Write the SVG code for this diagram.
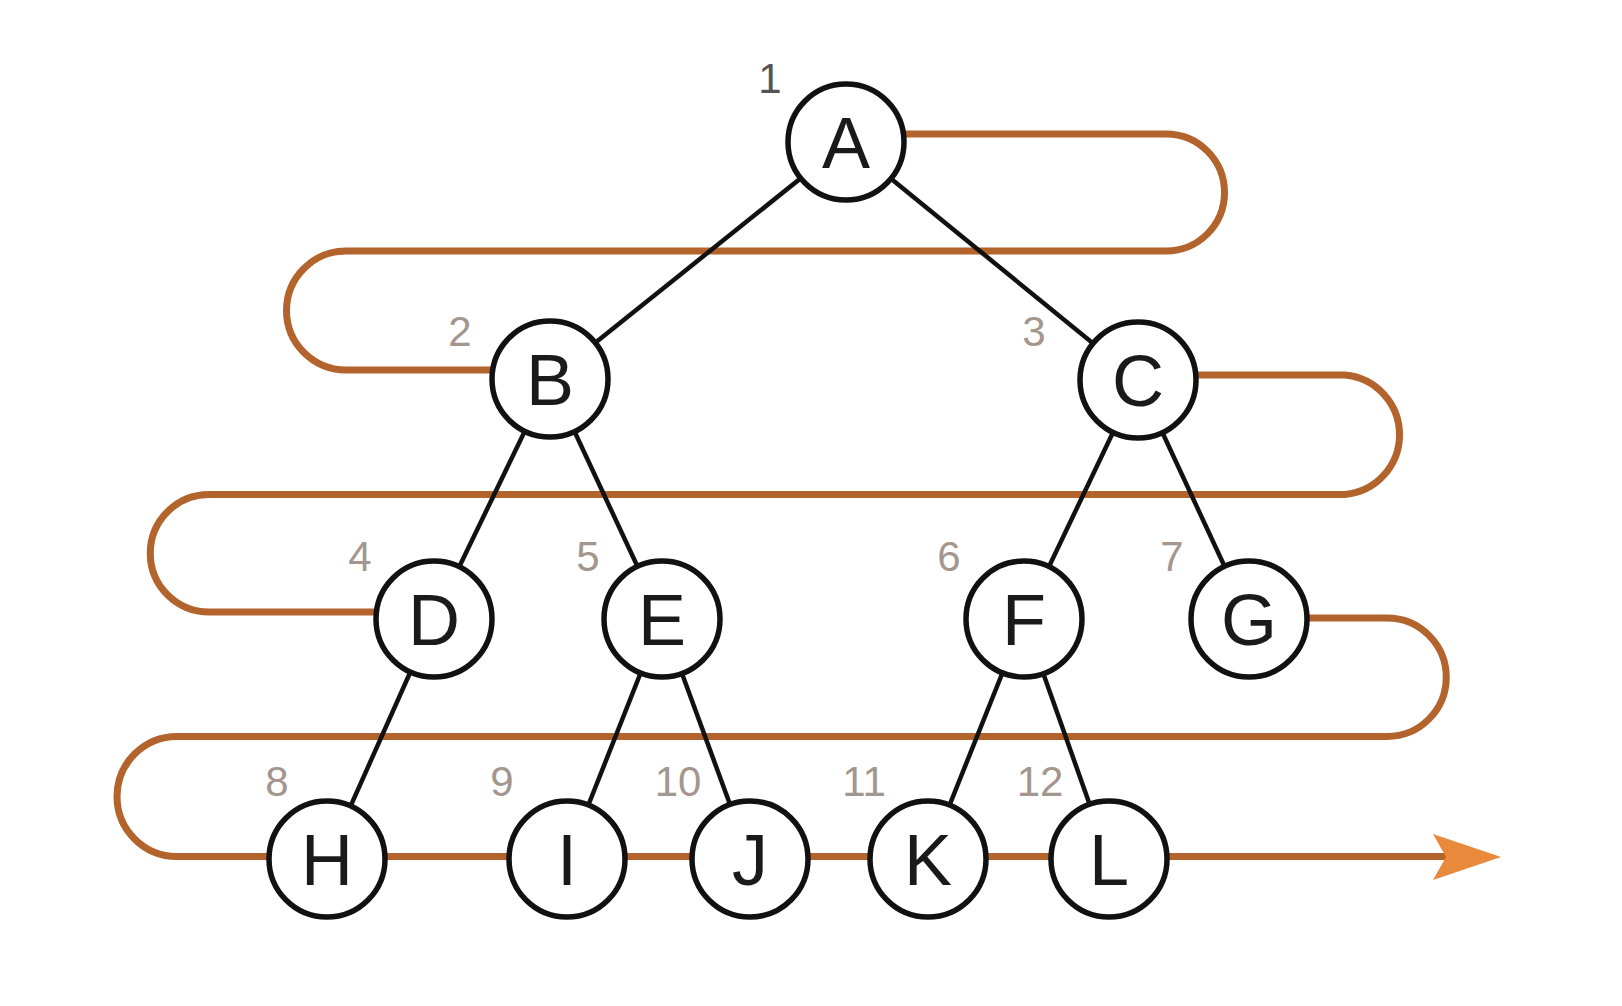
<svg xmlns="http://www.w3.org/2000/svg" width="1622" height="1006" viewBox="0 0 1622 1006">
<style>
.path{fill:none;stroke:#b3632c;stroke-width:7;stroke-linecap:round;stroke-linejoin:round}
.edge{stroke:#111;stroke-width:4.5}
.node circle{fill:#fff;stroke:#111;stroke-width:5.5}
.node text{font-family:"Liberation Sans",Arial,sans-serif;font-size:72px;fill:#1a1a1a;text-anchor:middle}
.num{font-family:"Liberation Sans",Arial,sans-serif;font-size:42px;fill:#a3968f;text-anchor:middle}
</style>
<rect width="1622" height="1006" fill="#fff"/>
<g id="traversal">
<path class="path" d="M 904 134 H 1166 A 58.5 58.5 0 0 1 1166 251 H 346 A 59.5 59.5 0 0 0 346 370 H 492"/>
<path class="path" d="M 1196 375 H 1345 A 60 60 0 0 1 1345 494.5 H 209 A 58.75 58.75 0 0 0 209 612 H 376"/>
<path class="path" d="M 1307 618 H 1387 A 59 59 0 0 1 1387 736.5 H 177 A 60 60 0 0 0 177 856.5 H 1445"/>
<polygon points="1433,834 1501,857 1433,880 1446,857" fill="#e8893b"/>
</g>
<g id="edges">
<line class="edge" x1="846" y1="142" x2="550" y2="379"/>
<line class="edge" x1="846" y1="142" x2="1138" y2="380"/>
<line class="edge" x1="550" y1="379" x2="434" y2="619"/>
<line class="edge" x1="550" y1="379" x2="662" y2="619"/>
<line class="edge" x1="1138" y1="380" x2="1024" y2="619"/>
<line class="edge" x1="1138" y1="380" x2="1249" y2="619"/>
<line class="edge" x1="434" y1="619" x2="327" y2="859"/>
<line class="edge" x1="662" y1="619" x2="567" y2="859"/>
<line class="edge" x1="662" y1="619" x2="750" y2="859"/>
<line class="edge" x1="1024" y1="619" x2="928" y2="859"/>
<line class="edge" x1="1024" y1="619" x2="1109" y2="859"/>
</g>
<g id="nodeA" class="node"><circle cx="846" cy="142" r="58"/><text x="846" y="168">A</text></g>
<g id="nodeB" class="node"><circle cx="550" cy="379" r="58"/><text x="550" y="405">B</text></g>
<g id="nodeC" class="node"><circle cx="1138" cy="380" r="58"/><text x="1138" y="406">C</text></g>
<g id="nodeD" class="node"><circle cx="434" cy="619" r="58"/><text x="434" y="645">D</text></g>
<g id="nodeE" class="node"><circle cx="662" cy="619" r="58"/><text x="662" y="645">E</text></g>
<g id="nodeF" class="node"><circle cx="1024" cy="619" r="58"/><text x="1024" y="645">F</text></g>
<g id="nodeG" class="node"><circle cx="1249" cy="619" r="58"/><text x="1249" y="645">G</text></g>
<g id="nodeH" class="node"><circle cx="327" cy="859" r="58"/><text x="327" y="885">H</text></g>
<g id="nodeI" class="node"><circle cx="567" cy="859" r="58"/><text x="567" y="885">I</text></g>
<g id="nodeJ" class="node"><circle cx="750" cy="859" r="58"/><text x="750" y="885">J</text></g>
<g id="nodeK" class="node"><circle cx="928" cy="859" r="58"/><text x="928" y="885">K</text></g>
<g id="nodeL" class="node"><circle cx="1109" cy="859" r="58"/><text x="1109" y="885">L</text></g>
<g id="numbers">
<text class="num" x="770" y="93" style="fill:#555">1</text>
<text class="num" x="460" y="346">2</text>
<text class="num" x="1034" y="346">3</text>
<text class="num" x="360" y="571">4</text>
<text class="num" x="588" y="571">5</text>
<text class="num" x="949" y="571">6</text>
<text class="num" x="1172" y="571">7</text>
<text class="num" x="277" y="796">8</text>
<text class="num" x="502" y="796">9</text>
<text class="num" x="678" y="796">10</text>
<text class="num" x="864" y="796">11</text>
<text class="num" x="1040" y="796">12</text>
</g>
</svg>
